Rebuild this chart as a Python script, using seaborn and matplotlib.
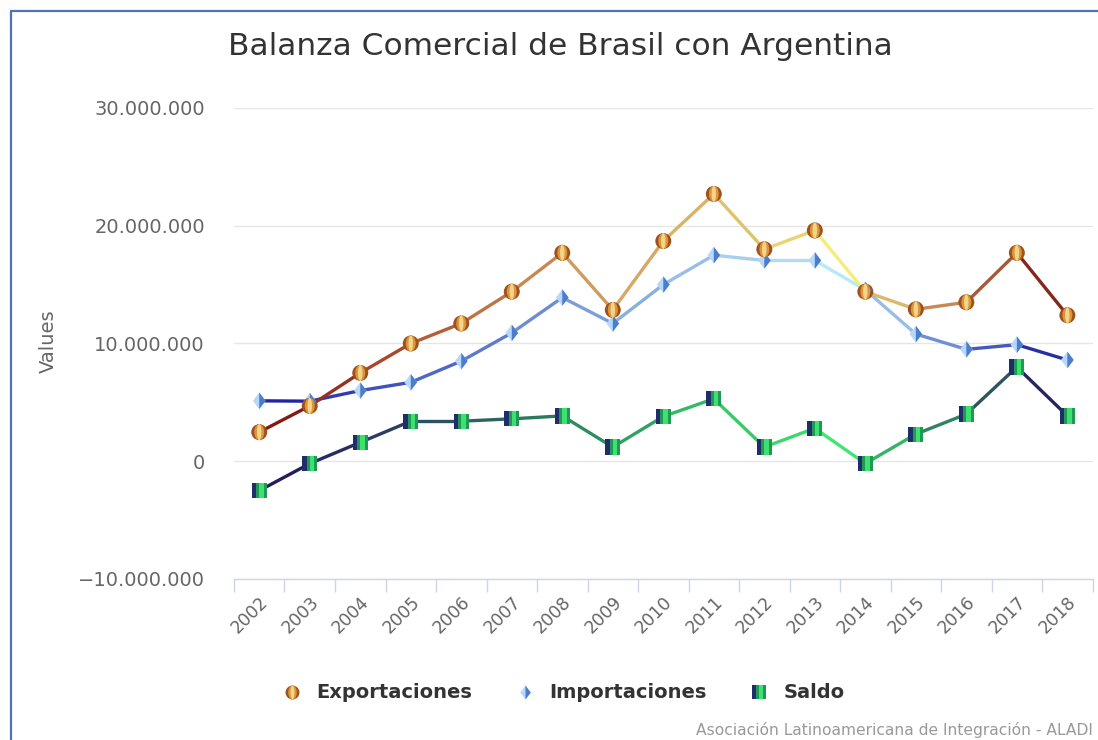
import numpy as np
import pandas as pd
import seaborn as sns
import matplotlib.pyplot as plt
from matplotlib.collections import LineCollection
from matplotlib.colors import LinearSegmentedColormap
from matplotlib.legend_handler import HandlerTuple
from matplotlib.lines import Line2D
from matplotlib.path import Path
from matplotlib.ticker import FuncFormatter


years = [str(y) for y in range(2002, 2019)]
exportaciones = [2470000, 4700000, 7500000, 10000000, 11700000, 14400000, 17700000,
                 12850000, 18700000, 22700000, 18000000, 19600000, 14400000,
                 12900000, 13500000, 17700000, 12400000]
importaciones = [5130000, 5100000, 6000000, 6700000, 8500000, 10900000, 13900000,
                 11700000, 15000000, 17500000, 17050000, 17050000, 14550000,
                 10800000, 9500000, 9900000, 8600000]
saldo = [-2500000, -200000, 1600000, 3400000, 3400000, 3600000, 3850000,
         1200000, 3800000, 5300000, 1200000, 2800000, -200000,
         2300000, 4000000, 8000000, 3850000]

df = pd.DataFrame({"year": years, "Exportaciones": exportaciones,
                   "Importaciones": importaciones, "Saldo": saldo})
df["pos"] = np.arange(len(df))

# gradient stops along the x axis (like the original highcharts gradient)
grad_exp = [(0.0, "#7a1010"), (0.06, "#8e2418"), (0.15, "#a8442a"), (0.3, "#c27a48"),
            (0.42, "#d0a060"), (0.55, "#d8b868"), (0.65, "#e6d070"), (0.72, "#f6ee78"),
            (0.78, "#dcbc6c"), (0.86, "#c08050"), (0.93, "#9a4a30"), (1.0, "#781010")]
grad_imp = [(0.0, "#1a1a9a"), (0.2, "#4a62c4"), (0.4, "#7a9cd8"), (0.6, "#a8d0ee"),
            (0.72, "#b8eaf8"), (0.82, "#86a6dc"), (0.9, "#4a5ec0"), (1.0, "#1a2090")]
grad_sal = [(0.0, "#24145a"), (0.2, "#2a4a64"), (0.3, "#2e6a60"), (0.42, "#2e9060"),
            (0.55, "#34c066"), (0.72, "#44e474"), (0.8, "#30a862"), (0.88, "#2e6a5e"),
            (0.94, "#2c4060"), (1.0, "#201060")]

# marker shapes
circ = Path.unit_circle()
def squeeze(path, fx):
    return Path(path.vertices * [fx, 1.0], path.codes)
def rect(x0, x1):
    return Path([(x0, -0.5), (x1, -0.5), (x1, 0.5), (x0, 0.5), (x0, -0.5)], closed=True)
diamond = Path([(0, 0.5), (0.38, 0), (0, -0.5), (-0.38, 0), (0, 0.5)], closed=True)
diamond_r = Path([(0, 0.5), (0.38, 0), (0, -0.5), (0, 0.5)], closed=True)

marker_layers = {
    "Exportaciones": [(circ, "#a0501e", 11.5), (squeeze(circ, 0.62), "#d9963a", 11.5),
                      (squeeze(circ, 0.28), "#f3d48a", 11.5)],
    "Importaciones": [(diamond, "#b6d8fa", 12), (diamond_r, "#4c7ccc", 12)],
    "Saldo": [(rect(-0.5, 0.5), "#1f2d6b", 11), (rect(-0.2, 0.5), "#1f9a55", 11),
              (rect(0.0, 0.3), "#40e070", 11)],
}
gradients = {"Exportaciones": grad_exp, "Importaciones": grad_imp, "Saldo": grad_sal}

sns.set_style("white")
plt.rcParams["font.family"] = ["DejaVu Sans"]

fig = plt.figure(figsize=(10.98, 7.4), dpi=100)
ax = fig.add_axes([0.2131, 0.2176, 0.782, 0.6365])

for serie in ["Saldo", "Importaciones", "Exportaciones"]:
    pts = df[["pos", serie]].to_numpy(dtype=float)
    segs = np.stack([pts[:-1], pts[1:]], axis=1)
    cmap = LinearSegmentedColormap.from_list(serie, gradients[serie])
    cols = cmap((df["pos"].to_numpy()[:-1] + 0.5) / (len(df) - 1))
    lc = LineCollection(segs, colors=cols, linewidths=2.4, capstyle="round",
                        joinstyle="round", zorder=3)
    ax.add_collection(lc)
    for i, (mk, col, ms) in enumerate(marker_layers[serie]):
        sns.scatterplot(data=df, x="pos", y=serie, marker=mk, s=ms ** 2, color=col,
                        edgecolor="none", linewidth=0, zorder=5 + i, ax=ax)

ax.set_xlim(-0.5, len(df) - 0.5)
ax.set_ylim(-10000000, 30000000)
ax.set_yticks([-10000000, 0, 10000000, 20000000, 30000000])
ax.yaxis.set_major_formatter(FuncFormatter(
    lambda v, p: ("\u2212" if v < 0 else "") + f"{abs(int(v)):,}".replace(",", ".")))
ax.set_xticks(df["pos"])
ax.set_xticklabels(years, rotation=45, ha="right", va="top", rotation_mode="anchor")
ax.set_xticks(np.arange(-0.5, len(df), 1), minor=True)
ax.tick_params(axis="x", which="major", bottom=False, length=0, pad=10,
               labelsize=12.5, labelcolor="#666666")
ax.tick_params(axis="x", which="minor", bottom=True, length=9.5, width=1,
               color="#ccd6eb", direction="out")
ax.tick_params(axis="y", length=0, pad=21, labelsize=14, labelcolor="#666666")
ax.grid(axis="y", color="#e6e6e6", linewidth=1)
ax.grid(axis="x", visible=False)
for s in ["top", "right", "left"]:
    ax.spines[s].set_visible(False)
ax.spines["bottom"].set_color("#ccd6eb")
ax.spines["bottom"].set_linewidth(1)
ax.set_xlabel("")
ax.set_ylabel("")

fig.text(0.0437, 0.539, "Values", rotation=90, ha="center", va="center",
         fontsize=14, color="#666666")
fig.text(0.5105, 0.9257, "Balanza Comercial de Brasil con Argentina", ha="center",
         va="baseline", fontsize=22.5, color="#333333")
fig.text(1093 / 1098, 1 - 735 / 740, "Asociación Latinoamericana de Integración - ALADI",
         ha="right", va="baseline", fontsize=11.2, color="#999999")

# legend
handles = []
for serie in ["Exportaciones", "Importaciones", "Saldo"]:
    parts = tuple(Line2D([], [], linestyle="none", marker=mk, markersize=10,
                         markerfacecolor=col, markeredgewidth=0)
                  for mk, col, ms in marker_layers[serie])
    handles.append(parts)
fig.legend(handles, ["Exportaciones", "Importaciones", "Saldo"],
           handler_map={tuple: HandlerTuple(ndivide=1)},
           loc="center", bbox_to_anchor=(0.514, 1 - 693 / 740), ncol=3, frameon=False,
           handlelength=0.8, handletextpad=0.85, columnspacing=2.3,
           prop={"weight": "bold", "size": 14}, labelcolor="#333333")

# blue frame at top and left
fig.add_artist(Line2D([11 / 1098, 1], [1 - 11 / 740] * 2, transform=fig.transFigure,
                      color="#4f73b5", linewidth=1.6))
fig.add_artist(Line2D([11 / 1098] * 2, [0, 1 - 11 / 740], transform=fig.transFigure,
                      color="#4f73b5", linewidth=1.6))

fig.savefig("out.png", dpi=100)
